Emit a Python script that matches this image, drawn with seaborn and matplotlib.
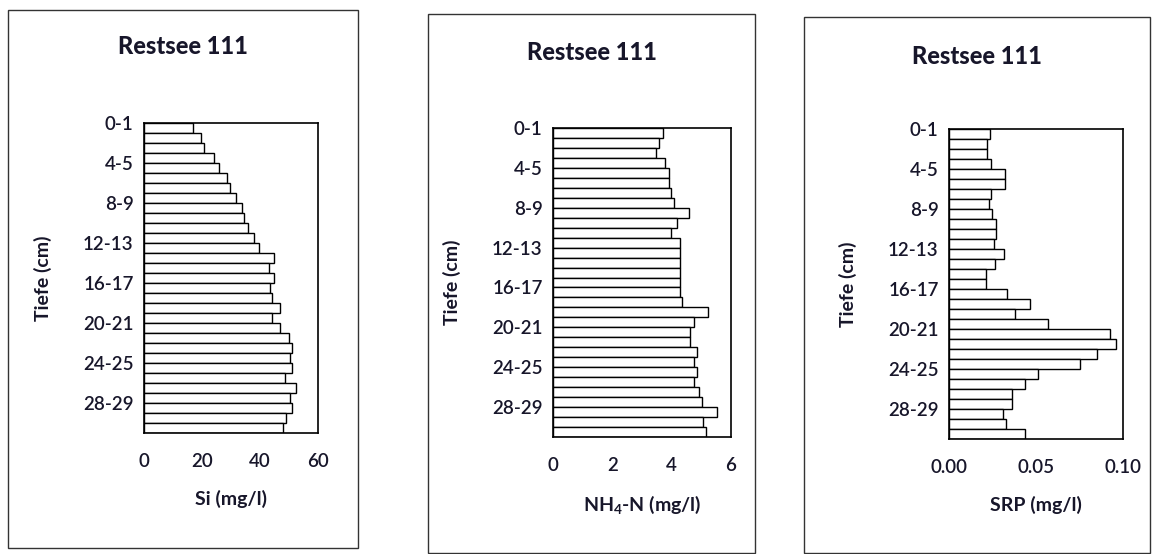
import matplotlib
matplotlib.use("Agg")
import matplotlib.pyplot as plt
import seaborn as sns
import pandas as pd
from matplotlib.patches import Rectangle

# depth classes (cm) and measured values
depth = [f"{i}-{i + 1}" for i in range(31)]
si = [17.0, 19.7, 20.8, 24.2, 26.0, 28.6, 29.7, 31.8, 33.9, 34.6, 35.8, 37.8,
      39.8, 44.7, 43.2, 44.7, 43.6, 44.2, 46.8, 44.2, 46.8, 49.9, 51.0, 50.3,
      50.9, 48.6, 52.5, 50.3, 50.9, 49.1, 48.0]
nh4 = [3.70, 3.58, 3.48, 3.79, 3.90, 3.90, 3.99, 4.09, 4.60, 4.18, 3.99, 4.29,
       4.29, 4.29, 4.29, 4.29, 4.29, 4.35, 5.22, 4.74, 4.63, 4.63, 4.85, 4.74,
       4.85, 4.74, 4.93, 5.02, 5.53, 5.06, 5.17]
srp = [0.0234, 0.0220, 0.0220, 0.0243, 0.0324, 0.0324, 0.0240, 0.0230, 0.0249,
       0.0272, 0.0272, 0.0259, 0.0314, 0.0266, 0.0215, 0.0215, 0.0335, 0.0464,
       0.0377, 0.0569, 0.0927, 0.0962, 0.0852, 0.0751, 0.0511, 0.0435, 0.0362,
       0.0362, 0.0310, 0.0330, 0.0435]

title = "Restsee 111"
xlabels = ["Si (mg/l)", r"NH$_{\mathregular{4}}$-N (mg/l)", "SRP (mg/l)"]
xticks = [[0, 20, 40, 60], [0, 2, 4, 6], [0.00, 0.05, 0.10]]
xfmt = ["{:.0f}", "{:.0f}", "{:.2f}"]

W, H = 1164, 554
INK = "#17162a"

sns.set_style("white")
plt.rcParams["font.family"] = ["Lato", "DejaVu Sans"]
plt.rcParams["text.color"] = INK
plt.rcParams["axes.labelcolor"] = INK
plt.rcParams["xtick.color"] = INK
plt.rcParams["ytick.color"] = INK


def px_rect(left, top, right, bottom):
    return [left / W, 1 - bottom / H, (right - left) / W, (bottom - top) / H]


def draw_panel(fig, ax, values, xlabel, ticks, fmt, box, title_y):
    df = pd.DataFrame({"depth": depth, "value": values})
    sns.barplot(data=df, x="value", y="depth", orient="h", color="white",
                edgecolor="black", linewidth=1.0, width=1.0, ax=ax,
                saturation=1)
    n = len(depth)
    ax.set_ylim(n - 0.5, -0.5)
    ax.set_xlim(ticks[0], ticks[-1])
    bounds = [i - 0.5 for i in range(n + 1)]
    ax.set_yticks(bounds)
    ax.set_yticklabels([depth[i] if i < n and i % 4 == 0 else "" for i in range(n + 1)])
    ax.set_xticks(ticks)
    ax.set_xticklabels([fmt.format(t) for t in ticks])
    ax.tick_params(axis="y", direction="inout", length=7, width=1, labelsize=13.5, pad=4)
    ax.tick_params(axis="x", direction="inout", length=9, width=1, labelsize=13.5, pad=10)
    for lab in ax.get_xticklabels() + ax.get_yticklabels():
        lab.set_fontweight("semibold")
    for s in ax.spines.values():
        s.set_color("black")
        s.set_linewidth(1.2)
    ax.set_ylabel("Tiefe (cm)", fontsize=14, fontweight="bold", labelpad=22)
    ax.set_xlabel(xlabel, fontsize=14, fontweight="bold", labelpad=14)
    # outer frame and title
    l, t, r, b = box
    fig.patches.append(Rectangle((l / W, 1 - b / H), (r - l) / W, (b - t) / H,
                                 transform=fig.transFigure, fill=False,
                                 edgecolor="#333333", linewidth=1.0))
    fig.text((l + r) / 2 / W, 1 - title_y / H, title, ha="center", va="center",
             fontsize=17, fontweight="black", color=INK)


fig = plt.figure(figsize=(W / 100, H / 100), dpi=100)
axes_px = [(144, 123, 318, 433), (553, 128, 731, 437), (949, 129, 1123, 439)]
boxes = [(8, 10, 358, 548), (428, 14, 755, 553), (804, 17, 1150, 553)]
title_ys = [47, 53, 56]
series = [si, nh4, srp]

for k in range(3):
    ax = fig.add_axes(px_rect(*axes_px[k]))
    draw_panel(fig, ax, series[k], xlabels[k], xticks[k], xfmt[k], boxes[k], title_ys[k])

fig.savefig("out.png", dpi=100)
